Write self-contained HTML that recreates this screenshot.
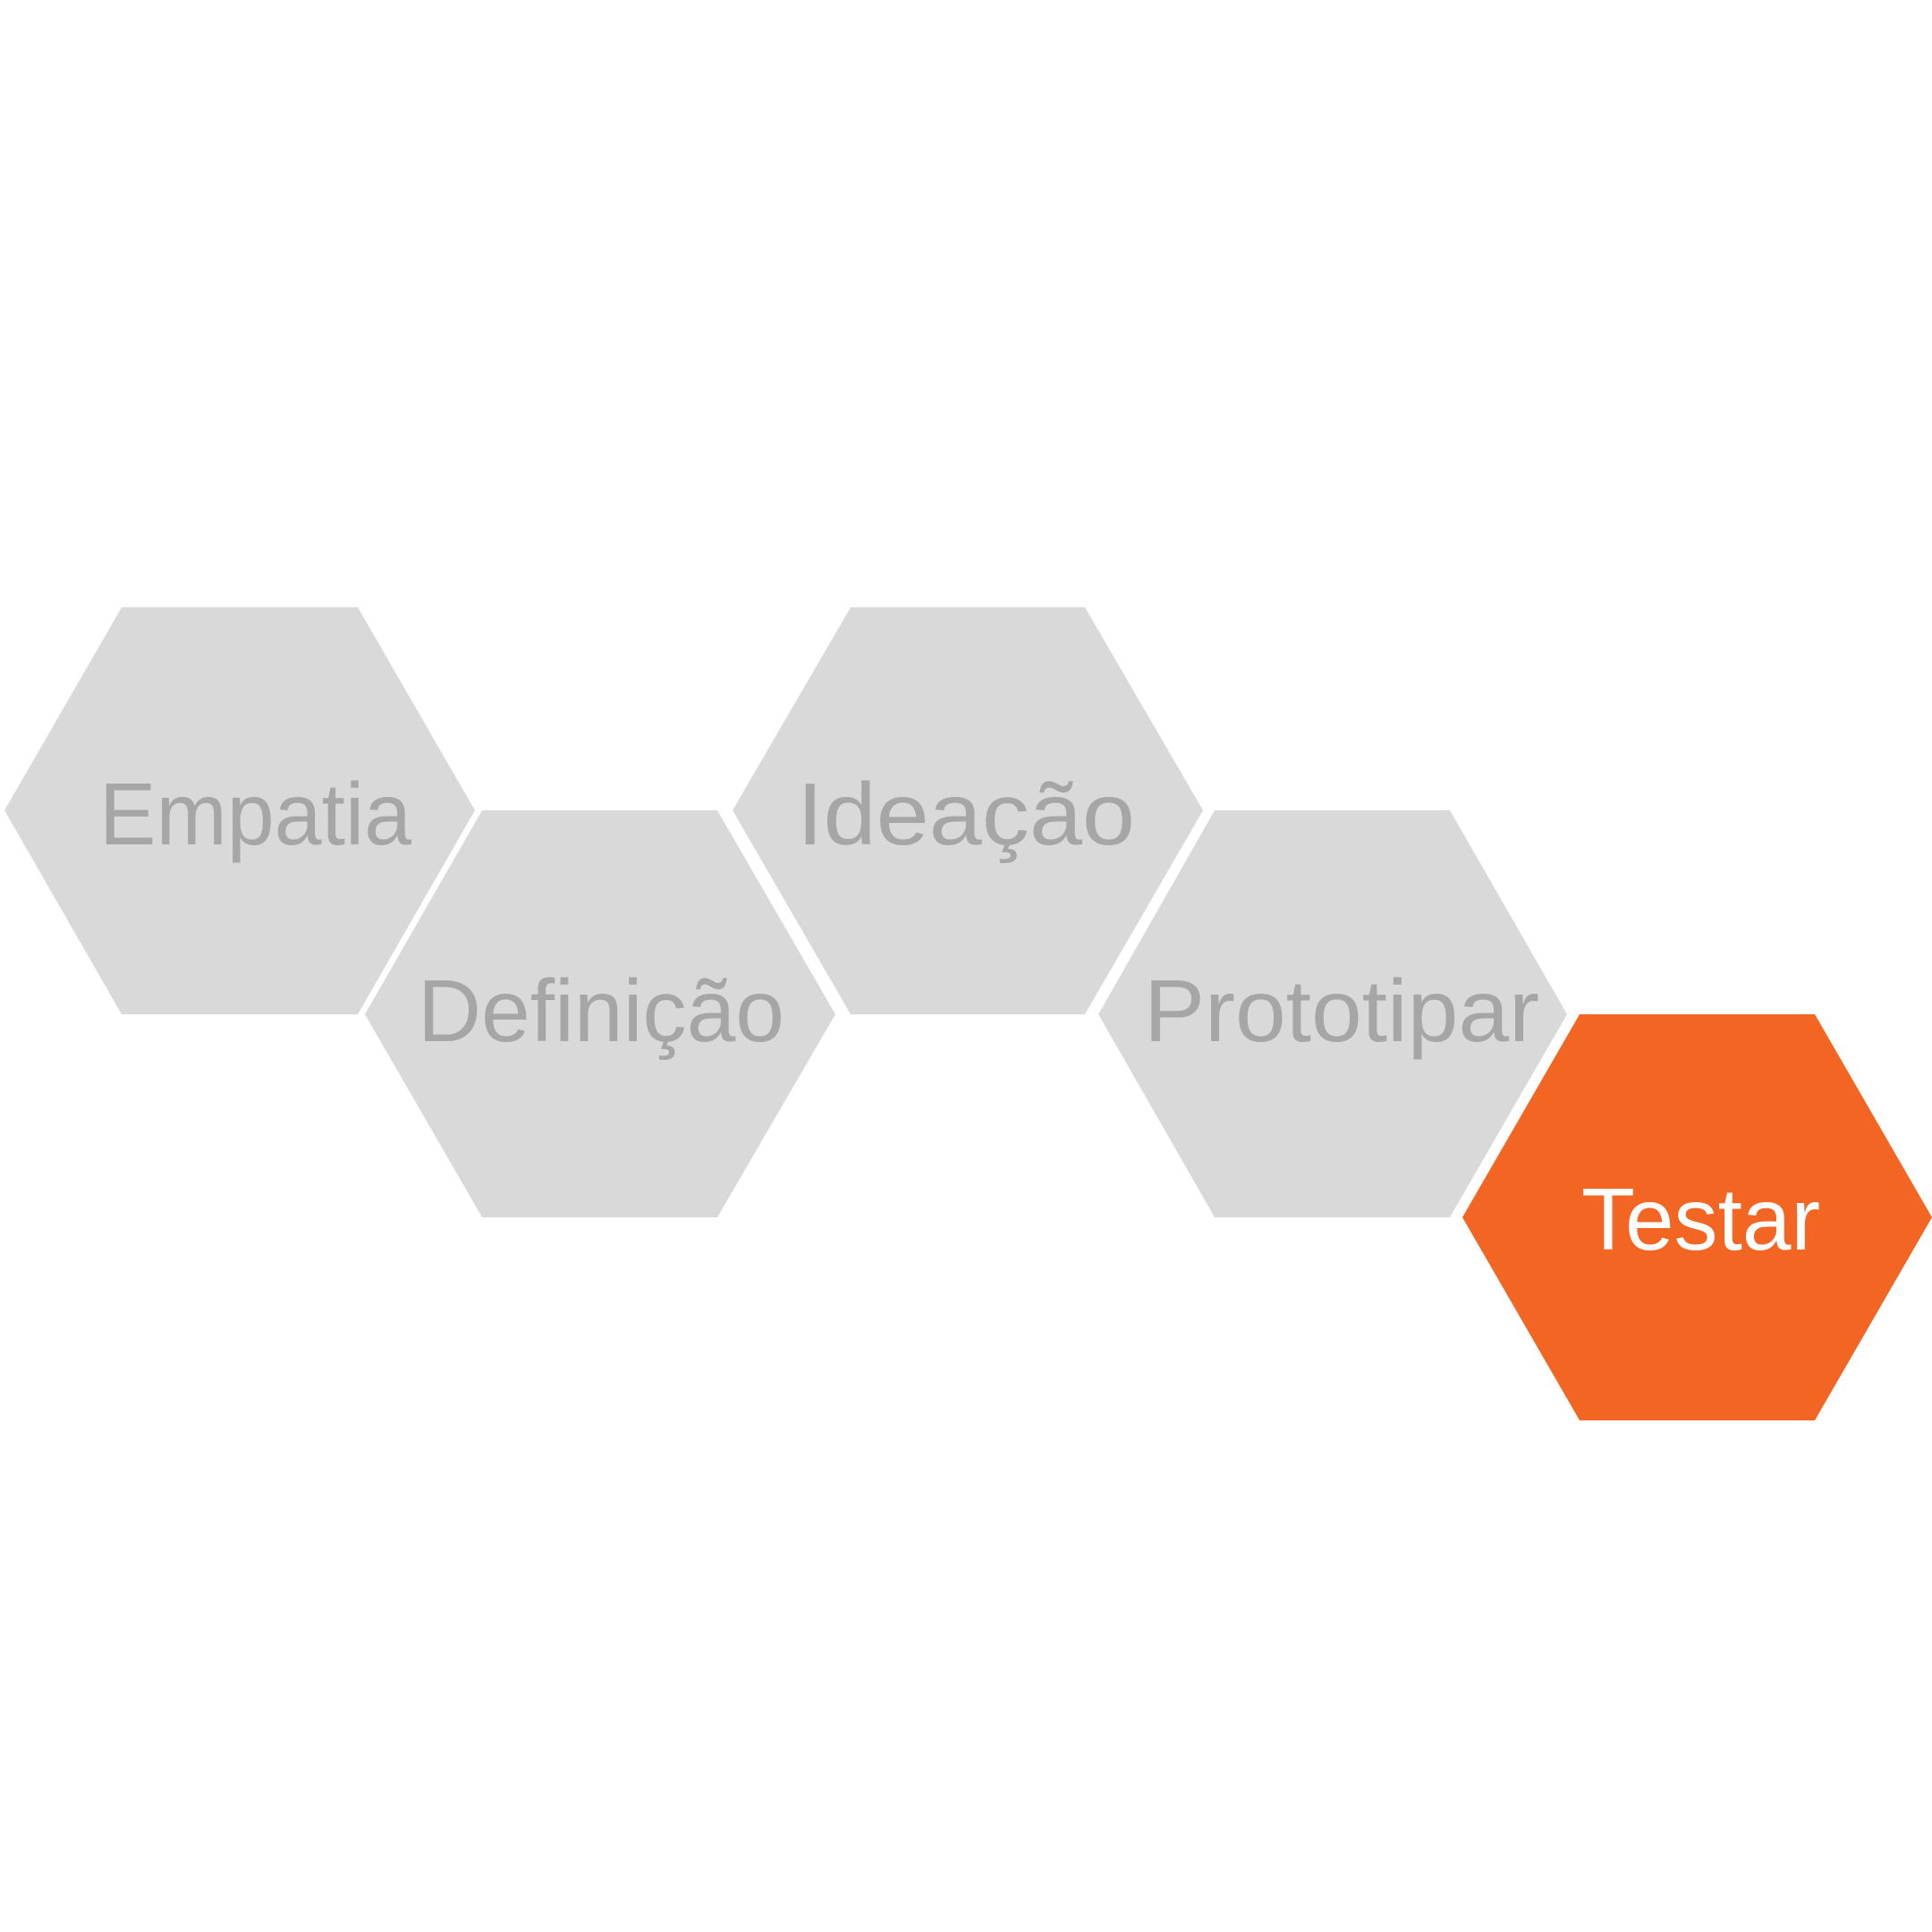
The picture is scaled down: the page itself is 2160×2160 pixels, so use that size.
<!DOCTYPE html>
<html><head><meta charset="utf-8"><style>html,body{margin:0;padding:0;background:#fff}svg{display:block}</style></head>
<body>
<svg width="2160" height="2160" viewBox="0 0 2160 2160" xmlns="http://www.w3.org/2000/svg">
<g fill="#d9d9d9">
<polygon points="136,679 400,679 531,906 400,1134 136,1134 5,906"/>
<polygon points="539,906 802,906 934,1134 802,1361 539,1361 408,1134"/>
<polygon points="951,679 1213,679 1345,906 1213,1134 951,1134 819,906"/>
<polygon points="1358,906 1621,906 1752,1134 1621,1361 1358,1361 1228,1134"/>
</g>
<polygon fill="#f26522" points="1766,1134 2029,1134 2160,1361 2029,1588 1766,1588 1635,1361"/>
<g font-family="Liberation Sans, sans-serif" font-size="98" fill="#a6a6a6">
<text x="111" y="944" textLength="349" lengthAdjust="spacingAndGlyphs">Empatia</text>
<text x="467" y="1164" textLength="410" lengthAdjust="spacingAndGlyphs">Definição</text>
<text x="891" y="944" textLength="378" lengthAdjust="spacingAndGlyphs">Ideação</text>
<text x="1279" y="1164" textLength="442" lengthAdjust="spacingAndGlyphs">Prototipar</text>
<text x="1768" y="1397" textLength="267" lengthAdjust="spacingAndGlyphs" fill="#ffffff">Testar</text>
</g>
</svg>
</body></html>
